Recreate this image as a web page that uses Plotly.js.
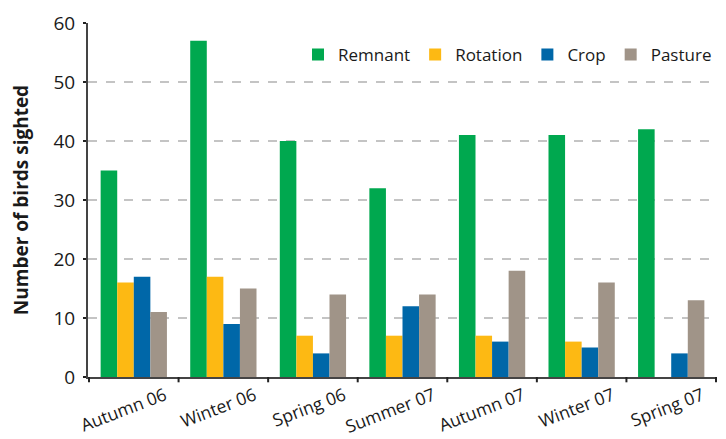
<!DOCTYPE html>
<html>
<head>
<meta charset="utf-8">
<script src="https://cdn.plot.ly/plotly-3.0.1.min.js"></script>
<style>html,body{margin:0;padding:0;background:#fff;}#chart{width:726px;height:439px;}</style>
</head>
<body>
<div id="chart"></div>
<script>
const seasons = ["Autumn 06", "Winter 06", "Spring 06", "Summer 07", "Autumn 07", "Winter 07", "Spring 07"];
const remnant = [35, 57, 40, 32, 41, 41, 42];
const rotation = [16, 17, 7, 7, 7, 6, null];
const crop = [17, 9, 4, 12, 6, 5, 4];
const pasture = [11, 15, 14, 14, 18, 16, 13];
const seriesNames = ["Remnant", "Rotation", "Crop", "Pasture"];
const seriesColors = ["#00A84F", "#FDB913", "#0067A8", "#A09488"];
const seriesValues = [remnant, rotation, crop, pasture];

const traces = seriesValues.map((vals, i) => ({
  type: "bar",
  name: seriesNames[i],
  x: seasons,
  y: vals,
  marker: {color: seriesColors[i], line: {width: 0}},
  hoverinfo: "x+y+name"
}));

const font = "Open Sans, Liberation Sans, Arial, sans-serif";
const layout = {
  width: 726, height: 439,
  margin: {l: 88, r: 9, t: 23, b: 62},
  paper_bgcolor: "#fff", plot_bgcolor: "#fff",
  barmode: "group", bargap: 0.26, bargroupgap: 0,
  font: {family: font, color: "#1a1a1a", size: 16},
  showlegend: true,
  legend: {orientation: "h", x: 1, xanchor: "right", y: 0.91, yanchor: "middle",
           font: {family: font, size: 17, color: "#1a1a1a"}, tracegroupgap: 0,
           bgcolor: "rgba(0,0,0,0)"},
  xaxis: {
    type: "category", showgrid: false, zeroline: false,
    showline: true, linecolor: "#444", linewidth: 2,
    ticks: "", tickangle: -21, ticklabelshift: 31, ticklabelstandoff: 0,
    tickfont: {family: font, size: 17.5, color: "#1a1a1a"}
  },
  yaxis: {
    range: [0, 60], dtick: 10, tick0: 0, showgrid: true,
    gridcolor: "#c4c4c4", griddash: "dash", gridwidth: 2,
    zeroline: false, showline: true, linecolor: "#444", linewidth: 2,
    ticks: "outside", ticklen: 3, tickcolor: "#222", tickwidth: 2, ticklabelstandoff: 4,
    tickfont: {family: font, size: 19, color: "#1a1a1a"},
    title: {text: "<b>Number of birds sighted</b>", font: {family: font, size: 19, color: "#1a1a1a"}, standoff: 20}
  },
  shapes: [1,2,3,4,5,6,7].map(k => ({
    type: "line", xref: "x", yref: "paper", x0: k - 0.5, x1: k - 0.5, y0: 0, y1: -0.015,
    line: {color: "#222", width: 2}
  })).concat([{type: "line", xref: "x", yref: "paper", x0: -0.5, x1: -0.5, y0: 0, y1: -0.015, line: {color: "#222", width: 2}}])
};

Plotly.newPlot("chart", traces, layout, {displayModeBar: false, staticPlot: true});
</script>
</body>
</html>
